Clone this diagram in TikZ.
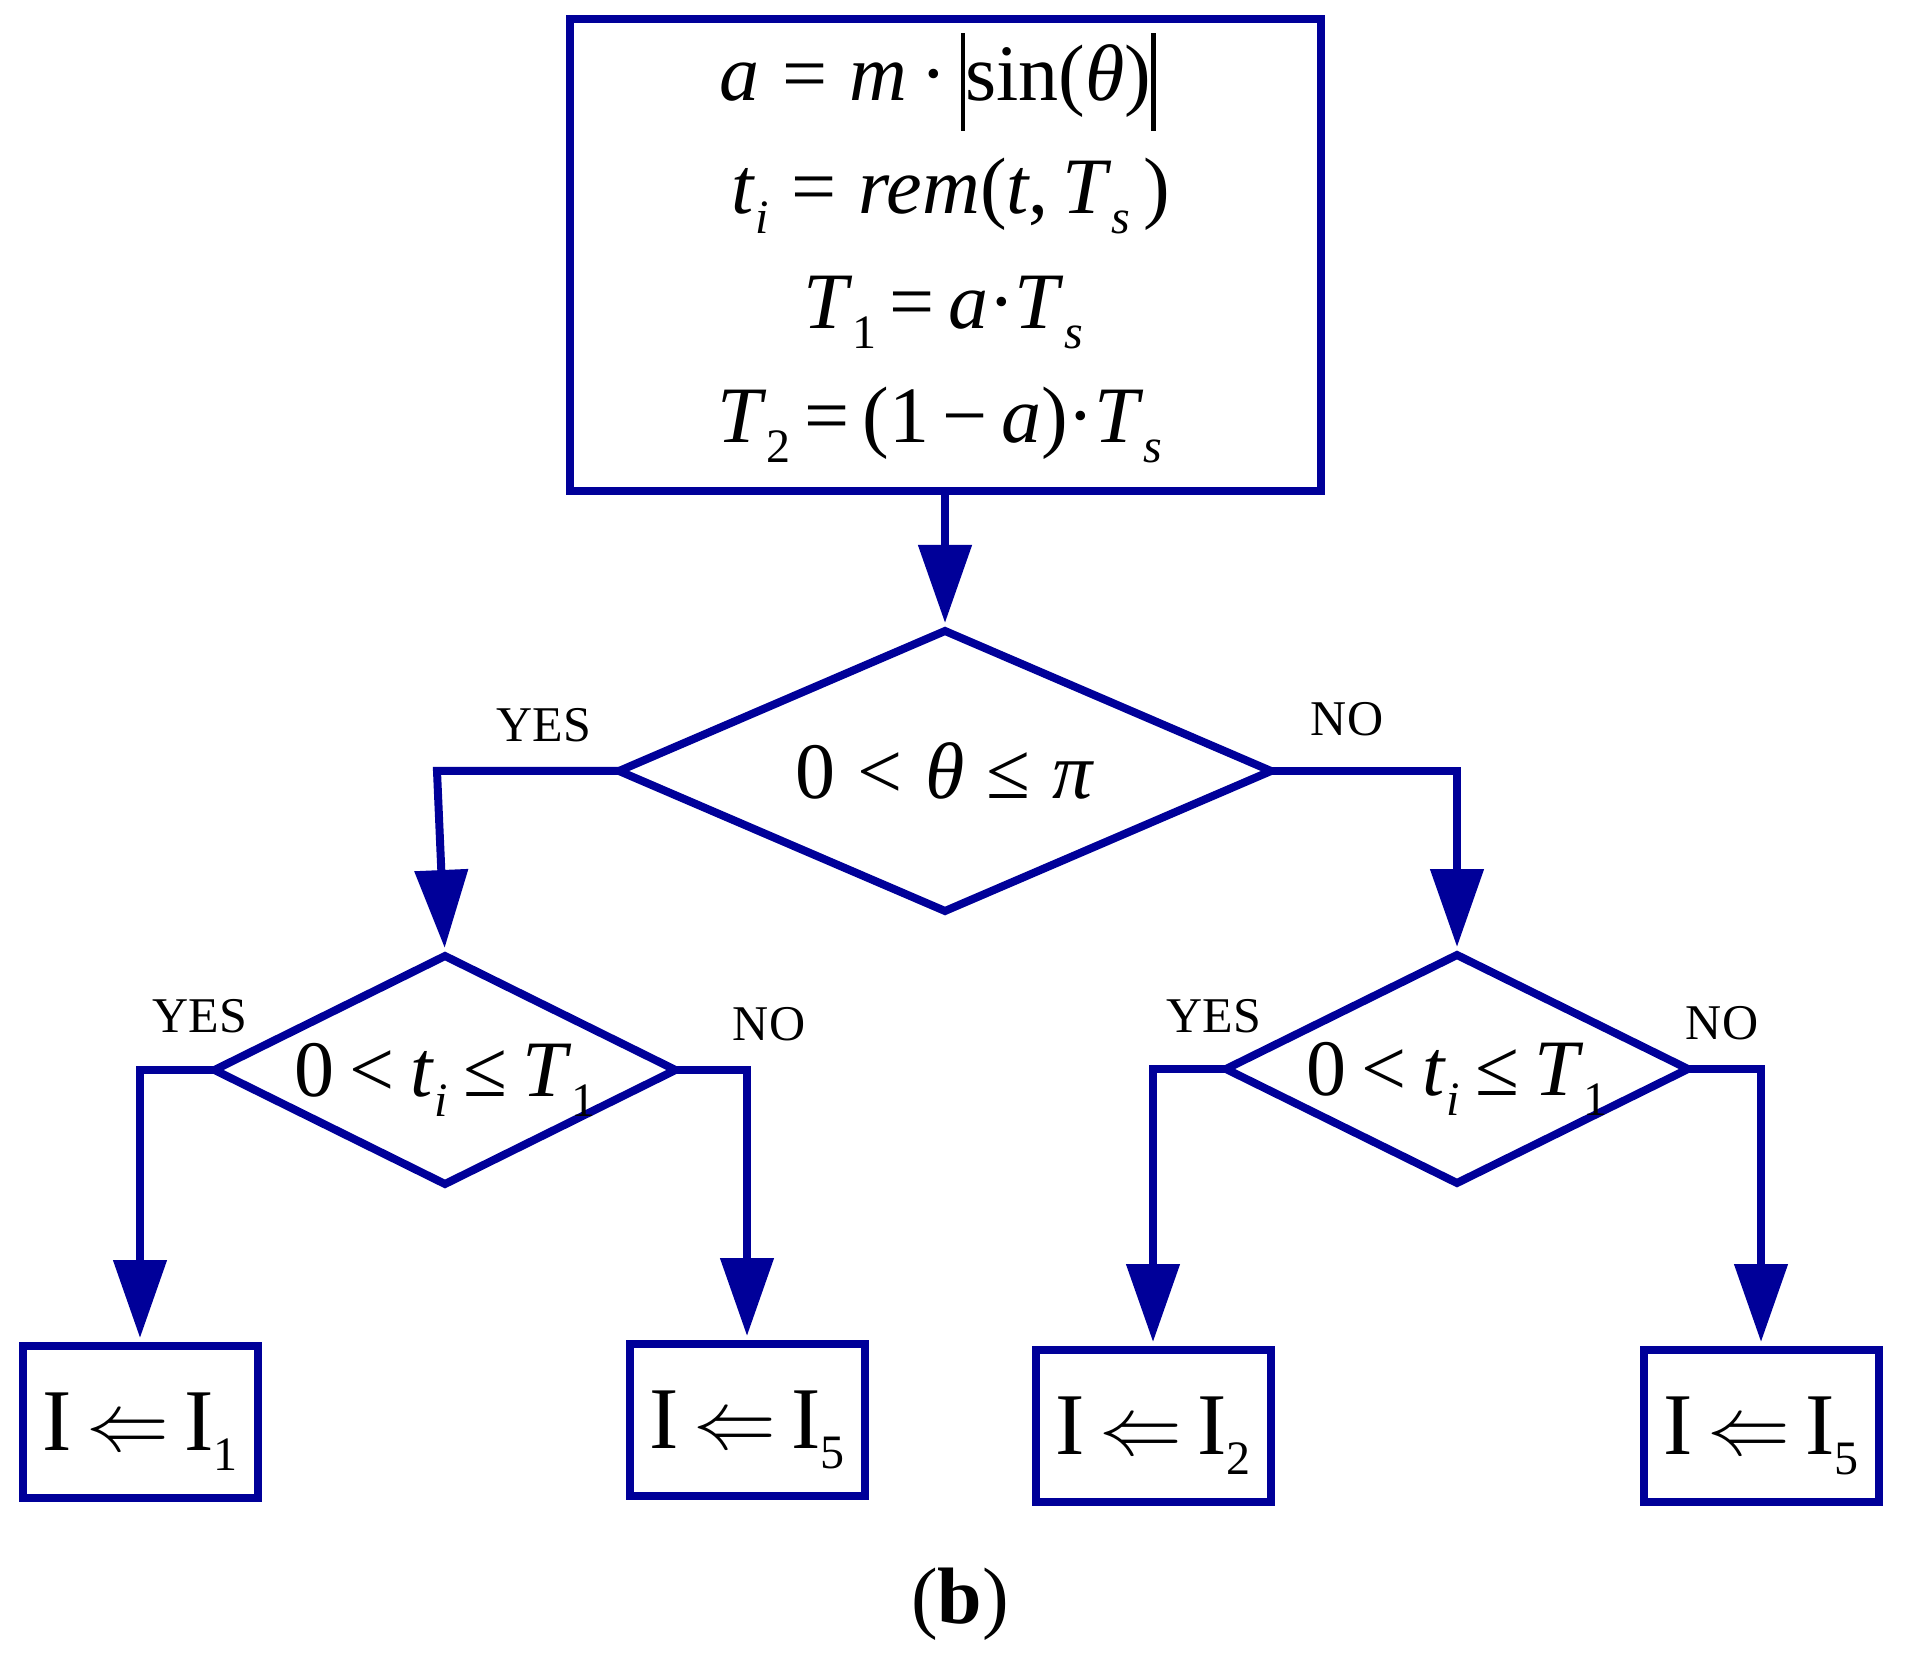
\documentclass[tikz,border=0pt]{standalone}
\usepackage{fontspec}
\setmainfont{Liberation Serif}
\usetikzlibrary{shapes.geometric,arrows.meta}
\definecolor{fc}{RGB}{0,0,153}
\newcommand\sbs[1]{\raisebox{-5pt}{\fontsize{12}{12}\selectfont #1}}
\newcommand\absb{\rule[-7.5pt]{1.2pt}{24.5pt}}
\newcommand\gp{\hspace{3.9pt}}
\begin{document}
\begin{tikzpicture}[x=0.25pt,y=-0.25pt,
  every node/.style={inner sep=0pt, outer sep=0pt},
  boxnode/.style={draw=fc, rectangle, line width=2pt, text depth=0pt},
  decnode/.style={draw=fc, diamond, line width=2pt, aspect=2.3, text depth=0pt, font=\fontsize{20}{24}\selectfont},
  fml/.style={font=\fontsize{20}{24}\selectfont, anchor=base},
  yn/.style={font=\fontsize{12.5}{15}\selectfont},
  outbox/.style={boxnode, minimum width=58.75pt, minimum height=38pt, font=\fontsize{22}{26}\selectfont},
  conn/.style={draw=fc, line width=2pt, shorten >=2pt, -{Triangle[length=19.5pt,width=13pt]}},
  plain/.style={draw=fc, line width=2pt}
]
\useasboundingbox (0,0) rectangle (1905,1656);

% top process box
\node[boxnode, minimum width=187.75pt, minimum height=118pt] (top) at (945,255) {};
\node[fml] (f1) at (938,101) {\textit{a}\;=\;\textit{m}\,·\,\absb sin(\textit{θ})\absb};
\node[fml] (f2) at (951,214) {\textit{t}\sbs{\textit{i}}\;=\;\textit{rem}(\textit{t},\,\textit{T}\sbs{\textit{s}}\,)};
\node[fml] (f3) at (943,329) {\textit{T}\sbs{1}\,=\,\textit{a}·\textit{T}\sbs{\textit{s}}};
\node[fml] (f4) at (940,443) {\textit{T}\sbs{2}\,=\,(1\,−\,\textit{a})·\textit{T}\sbs{\textit{s}}};

% decisions
\node[decnode, minimum width=163pt, minimum height=70pt] (bigd) at (945,771) {0\;<\;\textit{θ}\;≤\;\textit{π}};
\node[decnode, minimum width=115.25pt, minimum height=57pt] (ld) at (445,1070) {0\gp<\gp\textit{t}\sbs{\textit{i}}\gp≤\gp\textit{T}\sbs{1}};
\node[decnode, minimum width=115.5pt, minimum height=57pt] (rd) at (1457,1069) {0\gp<\gp\textit{t}\sbs{\textit{i}}\gp≤\gp\textit{T}\sbs{1}};

% output boxes
\node[outbox] (b1) at (140,1422) {I\,$\Leftarrow$\,I\sbs{1}};
\node[outbox] (b2) at (747,1420) {I\,$\Leftarrow$\,I\sbs{5}};
\node[outbox] (b3) at (1153,1426) {I\,$\Leftarrow$\,I\sbs{2}};
\node[outbox] (b4) at (1761,1426) {I\,$\Leftarrow$\,I\sbs{5}};

% labels
\node[yn] (y1) at (544,725) {YES};
\node[yn] (n1) at (1347,719) {NO};
\node[yn] (y2) at (200,1016) {YES};
\node[yn] (n2) at (769,1024) {NO};
\node[yn] (y3) at (1214,1016) {YES};
\node[yn] (n3) at (1722,1023) {NO};

% caption
\node[font=\fontsize{20}{24}\selectfont] (cap) at (960,1604) {(\textbf{b})};

% connectors
\coordinate (c1) at (437,771);
\draw[conn] (top.south) -- (bigd.north);
\draw[conn] (bigd.west) -- (c1) -- (ld.north);
\draw[conn] (bigd.east) -| (rd.north);
\draw[conn] (ld.west) -| (b1.north);
\draw[conn] (ld.east) -| (b2.north);
\draw[conn] (rd.west) -| (b3.north);
\draw[conn] (rd.east) -| (b4.north);
\end{tikzpicture}
\end{document}
